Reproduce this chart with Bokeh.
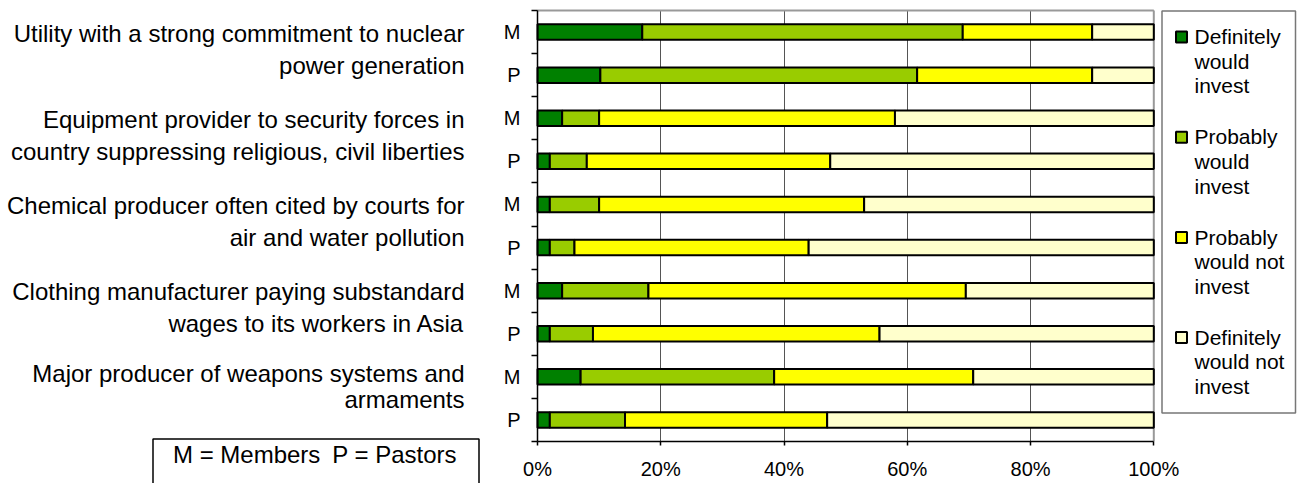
from bokeh.plotting import figure
from bokeh.models import Range1d, FixedTicker, ColumnDataSource
from bokeh.core.properties import value
from bokeh.embed import file_html
from bokeh.resources import INLINE

# ---------------- data ----------------
categories = [
    "Utility with a strong commitment to nuclear\npower generation",
    "Equipment provider to security forces in\ncountry suppressing religious, civil liberties",
    "Chemical producer often cited by courts for\nair and water pollution",
    "Clothing manufacturer paying substandard\nwages to its workers in Asia",
    "Major producer of weapons systems and\narmaments",
]
groups = ["M", "P"]
series_names = ["Definitely would invest", "Probably would invest",
                "Probably would not invest", "Definitely would not invest"]
# rows top to bottom: each category -> M, P
definitely_invest = [17, 10.2, 4, 2, 2, 2, 4, 2, 7, 2]
probably_invest = [52, 51.4, 6, 6, 8, 4, 14, 7, 31.4, 12.2]
probably_not = [21, 28.4, 48, 39.5, 43, 38, 51.5, 46.5, 32.3, 32.8]
definitely_not = [10, 10, 42, 52.5, 47, 56, 30.5, 44.5, 29.3, 53]
x_ticks = [0, 20, 40, 60, 80, 100]
x_tick_labels = ["0%", "20%", "40%", "60%", "80%", "100%"]
note_texts = ["M = Members", "P = Pastors"]

colors = ["#008000", "#99CC00", "#FFFF00", "#FFFFCC"]
FONT = "Liberation Sans"

n_rows = len(categories) * len(groups)
row_labels = [g for _ in categories for g in groups]
ys = [i + 0.5 for i in range(n_rows)]

# ---------------- geometry (pixels) ----------------
W, H = 1297, 483
FL, FR, FT, FB = 537, 1153.3, 10, 441   # plot-area edges in the picture
px_x = (FR - FL) / 100.0
px_y = (FB - FT) / n_rows
def dx(px):
    return (px - FL) / px_x
def dy(px):
    return (px - FT) / px_y

# frame covers the whole canvas; axes are pinned with fixed_location
p = figure(width=W, height=H, output_backend="svg", toolbar_location=None,
           x_range=Range1d(dx(0), dx(W)), y_range=Range1d(dy(H), dy(0)),
           min_border=0)
p.background_fill_color = "white"
p.border_fill_color = "white"
p.outline_line_color = None

# grid lines limited to the plot area
p.ygrid.visible = False
grid = p.xgrid[0]
if "cross_bounds" in grid.properties():
    grid.ticker = FixedTicker(ticks=x_ticks)
    grid.cross_bounds = (0, n_rows)
    grid.grid_line_color = "#555555"
    grid.grid_line_width = 1
else:
    grid.visible = False
    p.segment(x0=x_ticks, y0=[0] * len(x_ticks), x1=x_ticks, y1=[n_rows] * len(x_ticks),
              line_color="#555555", line_width=1)

# plot-area border (top and right, grey)
p.segment(x0=[0, 100], y0=[0, 0], x1=[100, 100], y1=[0, n_rows],
          line_color="#999999", line_width=2)

src = ColumnDataSource(dict(y=ys, s0=definitely_invest, s1=probably_invest,
                            s2=probably_not, s3=definitely_not))
keys = ["s0", "s1", "s2", "s3"]
renderers = p.hbar_stack(keys, y="y", height=0.36, color=colors,
                         line_color="black", line_width=2, source=src)

# axes
xa = p.xaxis[0]
ya = p.yaxis[0]
xa.fixed_location = n_rows
xa.bounds = (0, 100)
xa.ticker = FixedTicker(ticks=x_ticks, minor_ticks=[])
xa.major_label_overrides = {t: l for t, l in zip(x_ticks, x_tick_labels)}
xa.major_tick_out = 4
xa.major_tick_in = 0
xa.major_label_standoff = 12
ya.fixed_location = 0
ya.bounds = (0, n_rows)
ya.ticker = FixedTicker(ticks=ys, minor_ticks=list(range(n_rows + 1)))
ya.major_label_overrides = {y: l for y, l in zip(ys, row_labels)}
ya.major_tick_out = 0
ya.major_tick_in = 0
ya.minor_tick_out = 6
ya.minor_tick_in = 0
ya.major_label_standoff = 11
for ax in (xa, ya):
    ax.axis_line_color = "black"
    ax.axis_line_width = 1.5
    ax.major_tick_line_color = "black"
    ax.minor_tick_line_color = "black"
    ax.major_tick_line_width = 1.5
    ax.minor_tick_line_width = 1.5
    ax.major_label_text_font = FONT
    ax.major_label_text_font_size = "20px"
    ax.major_label_text_color = "black"

# category labels (two lines each, right aligned)
lab_x, lab_y, lab_t = [], [], []
for gi, cat in enumerate(categories):
    lines = cat.split("\n")
    offs = [-20.5, 11.5] if gi < len(categories) - 1 else [-25, 1.5]
    center = gi * len(groups) + len(groups) / 2
    for li, line in enumerate(lines):
        lab_x.append(dx(464))
        lab_y.append(center + offs[li] / px_y)
        lab_t.append(line)
p.text(x=lab_x, y=lab_y, text=lab_t, text_align="right", text_baseline="middle",
       text_font=value(FONT), text_font_size="24px", text_color="black")

# note box
p.quad(left=[dx(152.5)], right=[dx(478.5)], top=[dy(438.5)], bottom=[dy(495)],
       fill_color="white", line_color="black", line_width=1.5)
p.text(x=[dx(172.5), dx(456.5)], y=[dy(454), dy(454)], text=note_texts,
       text_align=["left", "right"], text_baseline="middle",
       text_font=value(FONT), text_font_size="24px", text_color="black")

# legend (box, colour keys and wrapped labels)
def wrap(name):
    w = name.split(" ")
    return [w[0], " ".join(w[1:-1]), w[-1]]

LEG_L, LEG_T, LEG_R, LEG_B = 1161.5, 10.5, 1295, 412.5
ITEM_STEP, LINE_STEP = 100.2, 24.6
p.quad(left=[dx(LEG_L)], right=[dx(LEG_R)], top=[dy(LEG_T)], bottom=[dy(LEG_B)],
       fill_color="white", line_color="#777777", line_width=1.5)
n_s = len(series_names)
key_top = [dy(31 + ITEM_STEP * i) for i in range(n_s)]
key_bot = [dy(42 + ITEM_STEP * i) for i in range(n_s)]
p.quad(left=[dx(1175.5)] * n_s, right=[dx(1186.5)] * n_s, top=key_top, bottom=key_bot,
       fill_color=colors, line_color="black", line_width=2)
leg_x, leg_y, leg_t = [], [], []
for i, name in enumerate(series_names):
    for j, line in enumerate(wrap(name)):
        leg_x.append(dx(1194))
        leg_y.append(dy(36.2 + ITEM_STEP * i + LINE_STEP * j))
        leg_t.append(line)
p.text(x=leg_x, y=leg_y, text=leg_t, text_align="left", text_baseline="middle",
       text_font=value(FONT), text_font_size="21px", text_color="black")

open("out.html", "w").write(file_html(p, INLINE))
